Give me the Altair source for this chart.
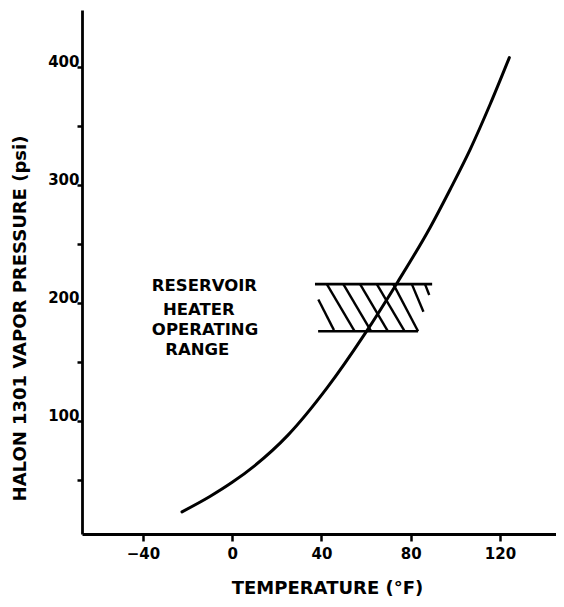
import altair as alt
import pandas as pd

# Curve: Halon 1301 vapor pressure vs temperature
temp_f = [-22.5, -10, 0, 10, 25, 42.5, 59.5, 73.9, 88.7, 97.6, 106.6, 115.5, 124.2]
pressure_psi = [23, 36, 48, 62, 88, 128, 174, 217, 264, 296, 330, 368, 408]

# Operating range band (top and bottom lines)
band_t_start = [37.1, 38.5]
band_t_end = [89.6, 83.3]
band_p = [216, 176]

# Hatch strokes
hatch_t1 = [38.6, 42.4, 49.8, 57.3, 64.8, 72.2, 80.5, 86.4]
hatch_p1 = [203, 216, 216, 216, 216, 216, 216, 216]
hatch_t2 = [45.6, 54.9, 62.3, 69.8, 77.3, 83.3, 85.7, 88.3]
hatch_p2 = [177, 176, 176, 176, 176, 176, 192.6, 206.8]

# Annotation
note_lines = ["RESERVOIR", "HEATER", "OPERATING", "RANGE"]
note_t = [-36, -31, -36, -30]
note_p = [214, 194, 177, 160]

x_ticks = [-40, 0, 40, 80, 120]
y_ticks = [50, 100, 150, 200, 250, 300, 350, 400]

XT = "TEMPERATURE (°F)"
YT = "HALON 1301 VAPOR PRESSURE (psi)"
FONT = "DejaVu Sans"

xscale = alt.Scale(domain=[-67.3, 145.1], nice=False, zero=False)
yscale = alt.Scale(domain=[4.2, 448.3], nice=False, zero=False)

x_axis = alt.Axis(
    values=x_ticks, title=XT, domainColor="black", domainWidth=2.8,
    tickColor="black", tickWidth=2.5, tickSize=7, labelPadding=5,
    labelFont=FONT, labelFontSize=15, labelFontWeight="bold", labelColor="black",
    titleFont=FONT, titleFontSize=18, titleFontWeight="bold", titleColor="black",
    titleX=245, titleY=54, titleBaseline="middle", grid=False,
)
y_axis = alt.Axis(
    values=y_ticks, title=YT, domainColor="black", domainWidth=2.8,
    tickColor="black", tickWidth=2.5, tickSize=5, labelPadding=-2,
    labelExpr="datum.value % 100 == 0 ? datum.label : ''",
    labelBaseline="alphabetic",
    labelFont=FONT, labelFontSize=15, labelFontWeight="bold", labelColor="black",
    titleFont=FONT, titleFontSize=18, titleFontWeight="bold", titleColor="black",
    titleAngle=270, titleX=-62, titleY=308, titleBaseline="middle", titleAlign="center",
    grid=False,
)

curve_df = pd.DataFrame({"t": temp_f, "p": pressure_psi})
curve = alt.Chart(curve_df).mark_line(
    color="black", strokeWidth=3, interpolate="monotone", strokeCap="round"
).encode(
    x=alt.X("t:Q", scale=xscale, axis=x_axis, title=XT),
    y=alt.Y("p:Q", scale=yscale, axis=y_axis, title=YT),
)

band_df = pd.DataFrame({"t": band_t_start, "t2": band_t_end, "p": band_p})
band = alt.Chart(band_df).mark_rule(color="black", strokeWidth=2.6).encode(
    x=alt.X("t:Q", title=XT), x2="t2:Q", y=alt.Y("p:Q", title=YT)
)

hatch_df = pd.DataFrame({"t": hatch_t1, "t2": hatch_t2, "p": hatch_p1, "p2": hatch_p2})
hatch = alt.Chart(hatch_df).mark_rule(color="black", strokeWidth=2.4).encode(
    x=alt.X("t:Q", title=XT), x2="t2:Q", y=alt.Y("p:Q", title=YT), y2="p2:Q"
)

note_df = pd.DataFrame({"t": note_t, "p": note_p, "txt": note_lines})
note = alt.Chart(note_df).mark_text(
    align="left", baseline="middle", font=FONT, fontSize=16.5, fontWeight="bold",
    color="black"
).encode(x=alt.X("t:Q", title=XT), y=alt.Y("p:Q", title=YT), text="txt:N")

chart = alt.layer(curve, band, hatch, note).properties(
    width=474, height=524,
    background="white",
    autosize=alt.AutoSizeParams(type="none"),
    padding={"left": 74, "top": 2, "right": 0, "bottom": 70},
).configure_view(strokeWidth=0, stroke="transparent")

chart.save("out.html", embed_options={"renderer": "svg", "actions": False})
